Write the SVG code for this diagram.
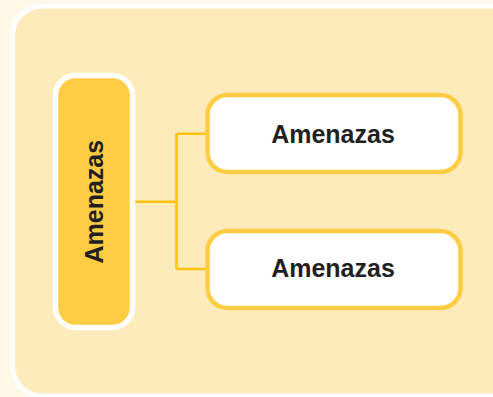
<svg xmlns="http://www.w3.org/2000/svg" width="493" height="397" viewBox="0 0 493 397">
  <style>
    .label { font-family: "Liberation Sans", Arial, sans-serif; font-weight: bold; font-size: 25px; fill: #231F20; text-anchor: middle; }
    .link { fill: none; stroke: #FFC20E; stroke-width: 2.6; }
    .child { fill: #FFFFFF; stroke: #FFCD44; stroke-width: 4.5; }
  </style>
  <!-- page background -->
  <rect x="0" y="0" width="493" height="397" fill="#FFF7E7"/>
  <!-- panel -->
  <rect x="12.5" y="6" width="520" height="390" rx="30" ry="30" fill="#FEEBBC" stroke="#FFFFFF" stroke-width="5"/>

  <!-- connectors -->
  <g id="connectors">
    <path class="link" d="M135 201.7 H176.5 M176.5 133.7 V269 M176.5 133.7 H206 M176.5 269 H206"/>
  </g>

  <!-- root node -->
  <g id="node-root">
    <rect x="55.5" y="75.5" width="77" height="252" rx="20" ry="20" fill="#FFCD44" stroke="#FFFFFF" stroke-width="5.5"/>
    <text class="label" transform="translate(103.3 201.7) rotate(-90)" x="0" y="0">Amenazas</text>
  </g>

  <!-- child nodes -->
  <g id="node-1">
    <rect class="child" x="207.5" y="95" width="253" height="77" rx="20" ry="20"/>
    <text class="label" x="333" y="143">Amenazas</text>
  </g>
  <g id="node-2">
    <rect class="child" x="207.5" y="231" width="253" height="77" rx="20" ry="20"/>
    <text class="label" x="333" y="277">Amenazas</text>
  </g>
</svg>
